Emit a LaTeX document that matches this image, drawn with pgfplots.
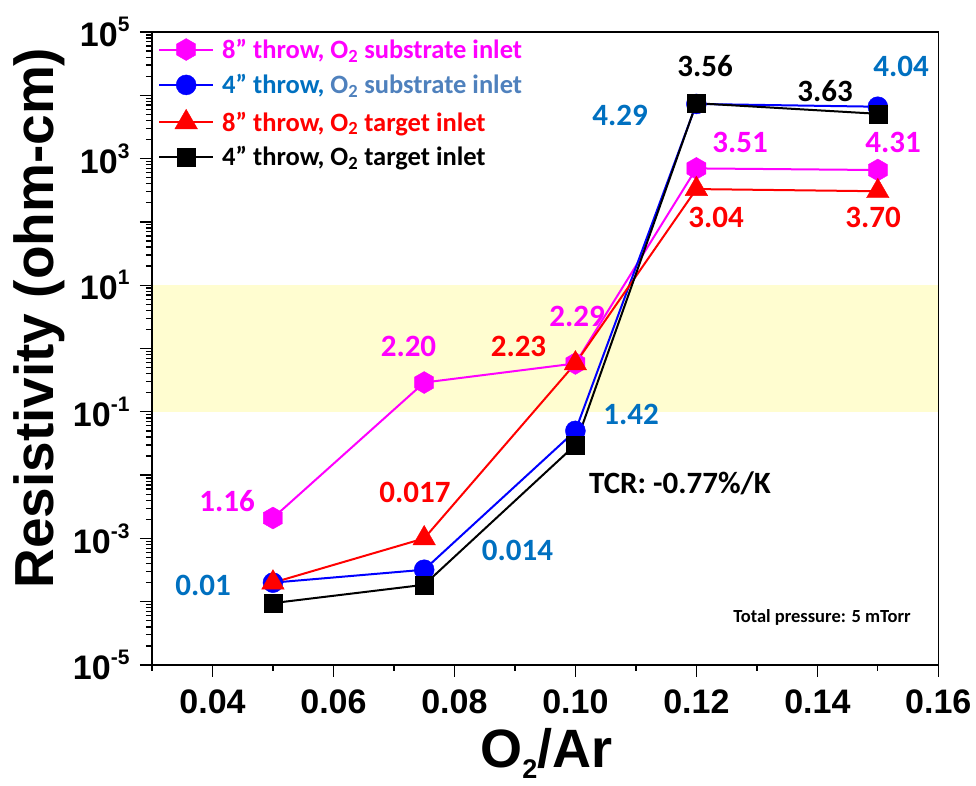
\documentclass[border=0pt]{standalone}
\usepackage{fontspec}
\setmainfont{Liberation Sans}
\newfontfamily\calib{Carlito}
\usepackage{pgfplots}
\pgfplotsset{compat=1.18}

\definecolor{cMag}{RGB}{255,0,255}
\definecolor{cBlue}{RGB}{0,0,255}
\definecolor{cRed}{RGB}{255,0,0}
\definecolor{lblBlue}{RGB}{0,112,192}
\definecolor{lblSteel}{RGB}{79,129,189}
\definecolor{band}{RGB}{255,253,208}

% filled hexagon with a vertex on top
\pgfdeclareplotmark{hexagon*}{%
  \pgfpathmoveto{\pgfpointpolar{90}{\pgfplotmarksize}}%
  \pgfpathlineto{\pgfpointpolar{150}{\pgfplotmarksize}}%
  \pgfpathlineto{\pgfpointpolar{210}{\pgfplotmarksize}}%
  \pgfpathlineto{\pgfpointpolar{270}{\pgfplotmarksize}}%
  \pgfpathlineto{\pgfpointpolar{330}{\pgfplotmarksize}}%
  \pgfpathlineto{\pgfpointpolar{30}{\pgfplotmarksize}}%
  \pgfpathclose
  \pgfusepathqfillstroke
}

\newcommand\tickfont{\fontsize{34}{36}\selectfont\bfseries}
\newcommand\datafont{\fontsize{31}{31}\calib\bfseries}
\newcommand\legfont{\fontsize{26.5}{28}\calib\bfseries}
\newcommand\tp[1]{10\raisebox{15pt}{\fontsize{21}{21}\selectfont #1}}

\begin{document}
\begin{tikzpicture}
\begin{axis}[
  at={(0pt,0pt)}, anchor=south west,
  scale only axis, width=786.3pt, height=633pt,
  ymode=log,
  xmin=0.03, xmax=0.16, ymin=1e-5, ymax=1e5,
  xtick={0.04,0.06,0.08,0.10,0.12,0.14,0.16},
  minor xtick={0.03,0.05,0.07,0.09,0.11,0.13,0.15},
  ytickten={-5,-4,-3,-2,-1,0,1,2,3,4,5},
  yticklabels={\tp{-5},,\tp{-3},,\tp{-1},,\tp{1},,\tp{3},,\tp{5}},
  scaled x ticks=false,
  tick pos=left, tick align=outside,
  major tick length=12pt, minor tick length=6pt,
  every tick/.style={black, line width=1.3pt},
  axis line style={line width=1.6pt},
  xticklabel style={font=\tickfont, yshift=-9pt, /pgf/number format/.cd, fixed, fixed zerofill, precision=2, assume math mode=true},
  yticklabel style={font=\tickfont, xshift=-7pt},
  xlabel={O\raisebox{-11pt}{\fontsize{27}{27}\selectfont 2}/Ar},
  ylabel={Resistivity (ohm-cm)},
  xlabel style={font=\fontsize{54}{56}\selectfont\bfseries, at={(rel axis cs:0.5017,-0.162)}, anchor=base},
  ylabel style={font=\fontsize{55}{57}\selectfont\bfseries, at={(rel axis cs:-0.1259,0.548)}, anchor=base},
  axis on top,
  legend cell align=left,
  legend style={at={(rel axis cs:0.0076,0.99)}, anchor=north west, draw=none, fill=none,
    font=\legfont, row sep=14pt, inner sep=0pt, nodes={inner sep=0pt},
    /tikz/every even column/.style={column sep=4pt}},
  legend image code/.code={%
    \draw[mark repeat=2, mark phase=2, #1] plot coordinates {(0pt,0pt) (27pt,0pt) (54pt,0pt)};
    \path (62pt,0pt);},
]
% highlighted resistivity window, 0.1 to 10 ohm-cm
\addplot[draw=none, fill=band, forget plot] coordinates
  {(0.03,0.1) (0.16,0.1) (0.16,10) (0.03,10) (0.03,0.1)};

\addplot[cMag, line width=2pt, mark=hexagon*, mark size=11pt, mark options={line width=0.4pt, fill=cMag}]
  coordinates {(0.05,2.1e-3) (0.075,0.29) (0.10,0.58) (0.12,700) (0.15,660)};
\addlegendentry{\textcolor{cMag}{8” throw, O\textsubscript{2} substrate inlet}}

\addplot[cBlue, line width=2pt, mark=*, mark size=10pt, mark options={line width=0.4pt, fill=cBlue}]
  coordinates {(0.05,2.0e-4) (0.075,3.2e-4) (0.10,0.050) (0.12,7300) (0.15,6600)};
\addlegendentry{\textcolor{lblBlue}{4” throw,} \textcolor{lblSteel}{O\textsubscript{2} substrate inlet}}

\addplot[cRed, line width=2pt, mark=triangle*, mark size=13pt, mark options={line width=0.4pt, fill=cRed}]
  coordinates {(0.05,2.0e-4) (0.075,1.0e-3) (0.10,0.58) (0.12,330) (0.15,305)};
\addlegendentry{\textcolor{cRed}{8” throw, O\textsubscript{2} target inlet}}

\addplot[black, line width=2pt, mark=square*, mark size=9pt, mark options={line width=0.4pt, fill=black}]
  coordinates {(0.05,9.5e-5) (0.075,1.85e-4) (0.10,0.030) (0.12,7500) (0.15,5100)};
\addlegendentry{\textcolor{black}{4” throw, O\textsubscript{2} target inlet}}

% point annotations
\begin{scope}[every node/.style={font=\datafont, inner sep=0pt}]
\node[text=cMag] at (rel axis cs:0.0954,0.2591) {1.16};
\node[text=cMag] at (rel axis cs:0.3262,0.5031) {2.20};
\node[text=cMag] at (rel axis cs:0.5405,0.5513) {2.29};
\node[text=cMag] at (rel axis cs:0.7478,0.8262) {3.51};
\node[text=cMag] at (rel axis cs:0.9424,0.8262) {4.31};
\node[text=cRed] at (rel axis cs:0.3345,0.2733) {0.017};
\node[text=cRed] at (rel axis cs:0.4661,0.5031) {2.23};
\node[text=cRed] at (rel axis cs:0.7173,0.7077) {3.04};
\node[text=cRed] at (rel axis cs:0.9170,0.7077) {3.70};
\node[text=lblBlue] at (rel axis cs:0.0649,0.1264) {0.01};
\node[text=lblBlue] at (rel axis cs:0.4648,0.1817) {0.014};
\node[text=lblBlue] at (rel axis cs:0.6092,0.3965) {1.42};
\node[text=lblBlue] at (rel axis cs:0.5952,0.8689) {4.29};
\node[text=lblBlue] at (rel axis cs:0.9526,0.9463) {4.04};
\node[text=black] at (rel axis cs:0.7033,0.9463) {3.56};
\node[text=black] at (rel axis cs:0.8559,0.9068) {3.63};
\node[text=black] at (rel axis cs:0.6715,0.2875) {TCR: -0.77\%/K};
\node[text=black, font=\fontsize{18.5}{19}\calib\bfseries] at (rel axis cs:0.8521,0.0758) {Total pressure: 5 mTorr};
\end{scope}
\end{axis}
\pgfresetboundingbox
\useasboundingbox (-152pt,-121pt) rectangle (824pt,665pt);
\end{tikzpicture}
\end{document}
